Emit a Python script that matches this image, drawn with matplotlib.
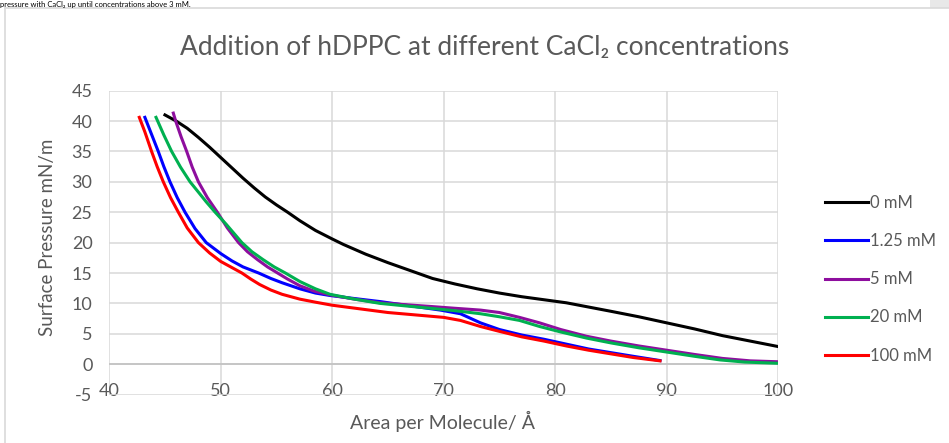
import matplotlib.pyplot as plt
from matplotlib.patches import Rectangle
from matplotlib.lines import Line2D

plt.rcParams['font.family'] = ['Lato', 'DejaVu Sans']
plt.rcParams['axes.unicode_minus'] = False

# Isotherm data: area per molecule (Å) vs surface pressure (mN/m)
x_0mM = [45.0, 46.0, 47.0, 48.0, 49.0, 50.0, 51.0, 52.0, 53.0, 54.0, 55.0, 56.0, 57.1, 58.5, 60.0,
         61.0, 63.0, 65.0, 67.0, 69.0, 71.0, 73.0, 75.0, 77.0, 79.0, 81.0, 83.0, 85.0, 87.5, 90.0,
         92.5, 95.0, 97.5, 100.0]
y_0mM = [41.0, 40.0, 38.8, 37.3, 35.7, 34.0, 32.3, 30.6, 29.0, 27.5, 26.2, 25.0, 23.6, 22.0, 20.6,
         19.7, 18.1, 16.7, 15.4, 14.1, 13.2, 12.4, 11.7, 11.1, 10.6, 10.1, 9.4, 8.7, 7.8, 6.8,
         5.8, 4.7, 3.8, 2.9]

x_125mM = [43.2, 43.8, 44.4, 44.9, 45.45, 46.1, 46.8, 47.7, 48.7, 50.0, 51.0, 52.0, 53.4, 54.5, 55.5,
           57.1, 58.5, 59.8, 62.0, 64.3, 67.0, 69.7, 71.5, 73.3, 75.0, 77.0, 79.0, 81.0, 83.0, 85.0,
           87.0, 89.4]
y_125mM = [40.6, 37.8, 35.0, 32.5, 30.0, 27.4, 25.0, 22.3, 20.0, 18.2, 17.0, 16.0, 15.0, 14.1, 13.4,
           12.4, 11.7, 11.3, 10.8, 10.3, 9.6, 8.9, 8.3, 6.8, 5.7, 4.8, 4.1, 3.3, 2.5, 1.9,
           1.3, 0.6]

x_5mM = [45.75, 45.96, 46.45, 46.95, 47.45, 48.0, 48.8, 49.7, 50.6, 51.6, 52.4, 53.3, 54.2, 55.1,
         56.0, 57.1, 58.4, 59.8, 62.0, 64.3, 66.5, 68.8, 71.0, 73.3, 75.0, 76.8, 78.6, 80.5, 82.8,
         85.0, 87.5, 90.0, 92.5, 95.0, 97.5, 100.0]
y_5mM = [41.3, 40.0, 37.4, 35.0, 32.4, 30.0, 27.4, 25.0, 22.4, 20.0, 18.5, 17.2, 16.0, 15.0,
         14.0, 12.9, 12.0, 11.4, 10.7, 10.1, 9.8, 9.5, 9.2, 8.9, 8.5, 7.7, 6.8, 5.7, 4.6,
         3.8, 3.0, 2.3, 1.6, 0.95, 0.55, 0.4]

x_20mM = [44.2, 44.9, 45.6, 46.4, 47.25, 48.0, 48.7, 49.5, 50.5, 51.9, 52.8, 53.8, 54.8, 55.8, 57.1,
          58.5, 59.8, 62.0, 64.3, 66.5, 68.8, 71.0, 73.3, 75.0, 76.8, 78.6, 80.5, 82.8, 85.0, 87.5,
          90.0, 92.5, 94.8, 97.0, 100.0]
y_20mM = [40.6, 37.7, 35.0, 32.4, 30.0, 28.3, 26.7, 25.0, 23.0, 20.0, 18.5, 17.2, 16.0, 15.0, 13.6,
          12.4, 11.5, 10.7, 10.0, 9.6, 9.2, 8.8, 8.3, 7.8, 7.2, 6.2, 5.3, 4.3, 3.5, 2.7,
          2.0, 1.3, 0.7, 0.35, 0.15]

x_100mM = [42.7, 43.2, 43.8, 44.3, 44.85, 45.5, 46.2, 47.0, 48.0, 49.0, 50.0, 51.0, 51.9, 52.7, 53.5,
           54.5, 55.5, 57.1, 58.5, 60.0, 62.5, 65.0, 67.5, 70.0, 71.5, 73.3, 75.0, 77.0, 79.0, 81.0,
           83.0, 85.0, 87.0, 89.4]
y_100mM = [40.6, 38.2, 35.0, 32.5, 30.0, 27.4, 25.0, 22.4, 20.0, 18.3, 16.9, 15.9, 15.0, 14.0, 13.1,
           12.2, 11.5, 10.7, 10.2, 9.7, 9.1, 8.5, 8.1, 7.7, 7.2, 6.2, 5.4, 4.5, 3.8, 3.0,
           2.3, 1.7, 1.1, 0.55]

series = [
    ('0 mM', x_0mM, y_0mM, 'black'),
    ('1.25 mM', x_125mM, y_125mM, '#0000FF'),
    ('5 mM', x_5mM, y_5mM, '#8E0E9E'),
    ('20 mM', x_20mM, y_20mM, '#00B050'),
    ('100 mM', x_100mM, y_100mM, '#FF0000'),
]

grey = '#595959'
W, H = 949, 443

fig = plt.figure(figsize=(W / 100, H / 100), dpi=100)
ax = fig.add_axes([109.2 / W, 1 - 394.6 / H, (778.2 - 109.2) / W, (394.6 - 90.6) / H])

for label, xs, ys, color in series:
    ax.plot(xs, ys, color=color, lw=2.2, label=label, solid_joinstyle='round')

ax.set_xlim(40, 100)
ax.set_ylim(-5, 45)
ax.set_xticks(range(40, 101, 10))
ax.set_yticks(range(-5, 46, 5))
ax.grid(True, color='#d9d9d9', lw=1.1)
ax.set_axisbelow(True)
ax.axhline(0, color='#bfbfbf', lw=1.1, zorder=1)
for s in ax.spines.values():
    s.set_visible(False)
ax.tick_params(axis='both', length=0, labelsize=13, labelcolor=grey)
ax.tick_params(axis='x', pad=-8)
ax.tick_params(axis='y', pad=12)

fig.text(485 / W, 1 - 47 / H, 'Addition of hDPPC at different CaCl₂ concentrations',
         ha='center', va='center', fontsize=19, color=grey)
fig.text(48 / W, 1 - 237 / H, 'Surface Pressure mN/m', rotation=90,
         ha='center', va='center', fontsize=13.5, color=grey)
fig.text(443 / W, 1 - 421 / H, 'Area per Molecule/ Å',
         ha='center', va='center', fontsize=14, color=grey)

ax.legend(loc='upper left', bbox_to_anchor=(825 / W, 1 - 195 / H), bbox_transform=fig.transFigure,
          frameon=False, borderpad=0, borderaxespad=0, fontsize=12, labelcolor=grey,
          handlelength=2.6, handletextpad=0.12, labelspacing=1.33)

# chart frame and the page around it
fig.add_artist(Line2D([5 / W, 5 / W], [0, 1 - 8 / H], color='#d9d9d9', lw=1.2))
fig.add_artist(Line2D([5 / W, 1], [1 - 8 / H, 1 - 8 / H], color='#d9d9d9', lw=1.2))
fig.add_artist(Rectangle((930 / W, 1 - 8 / H), 19 / W, 8 / H, color='#e8e8e8', lw=0))
fig.text(0, 1 - 7 / H, 'pressure with CaCl₂ up until concentrations above 3 mM.',
         ha='left', va='baseline', fontsize=5.5, color='black')

fig.savefig('out.png', dpi=100)
